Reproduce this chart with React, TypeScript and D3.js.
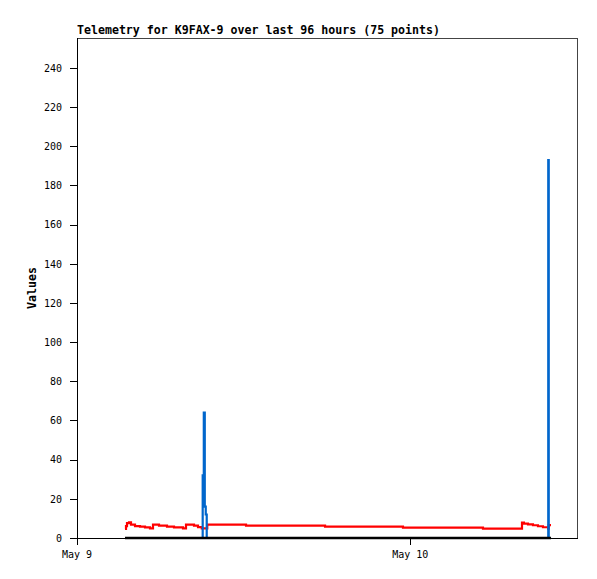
import React from "react";
import * as d3 from "d3";

// hours after May 9 00:00
const times = [3.456, 3.528, 3.6, 3.744, 3.888, 4.176, 4.536, 4.896, 5.256, 5.472, 5.904, 6.48, 6.984, 7.632, 7.848, 8.424, 8.712, 8.98, 9.05, 9.13, 9.2, 9.27, 9.34, 9.38, 12.17, 17.86, 23.47, 29.23, 32.04, 32.18, 32.47, 32.83, 33.19, 33.55, 33.93, 33.965, 34.13];
const redValues = [4.6, 6.1, 7.6, 8.0, 6.8, 6.1, 5.8, 5.4, 4.9, 6.8, 6.3, 5.8, 5.4, 4.9, 6.8, 6.3, 5.6, 4.9, 4.9, 4.9, 4.9, 4.9, 4.9, 6.8, 6.3, 5.8, 5.3, 4.8, 7.8, 7.3, 7.0, 6.5, 6.0, 5.5, 4.8, 6.6, 6.6];
const blueValues = [0, 0, 0, 0, 0, 0, 0, 0, 0, 0, 0, 0, 0, 0, 0, 0, 0, 0, 32, 64, 16, 12, 0, 0, 0, 0, 0, 0, 0, 0, 0, 0, 0, 0, 193, 0, 0];
const blackValues = times.map(() => 0);
const yTicks = [0, 20, 40, 60, 80, 100, 120, 140, 160, 180, 200, 220, 240];
const xTickLabels = ["May 9", "May 10"];
const xTickHours = [0, 24];
const title = "Telemetry for K9FAX-9 over last 96 hours (75 points)";

const base = new Date(2023, 4, 9, 0, 0, 0);
const toDate = (h: number) => new Date(base.getTime() + h * 3600 * 1000);

export default function App() {
  const L = 77, R = 577, T = 38, B = 538;
  const x = d3.scaleTime().domain([toDate(0), toDate(36)]).range([L, R]);
  const y = d3.scaleLinear().domain([0, 255.3]).range([B, T]);
  const mk = (vals: number[]) =>
    d3
      .line<number>()
      .x((_, i) => x(toDate(times[i])))
      .y((v) => y(v))
      .curve(d3.curveStepAfter)(vals) || "";
  const mono = "'DejaVu Sans Mono', 'Liberation Mono', monospace";
  return (
    <svg width={597} height={579} style={{ position: "absolute", left: 0, top: 0, background: "#fff" }}>
      <rect x={0} y={0} width={597} height={579} fill="#fff" />
      <text x={L} y={34} fontFamily={mono} fontWeight="bold" fontSize={11.6} fill="#000">{title}</text>
      <rect x={L + 0.5} y={T + 0.5} width={R - L} height={B - T} fill="none" stroke="#444" strokeWidth={1} />
      <line x1={L + 0.5} x2={L + 0.5} y1={T} y2={B + 7} stroke="#000" />
      <line x1={L} x2={R + 1} y1={B + 0.5} y2={B + 0.5} stroke="#000" />
      {yTicks.map((t) => (
        <g key={t}>
          <line x1={L - 7} x2={L} y1={Math.round(y(t)) + 0.5} y2={Math.round(y(t)) + 0.5} stroke="#000" />
          <text x={62} y={y(t) + 3.8} textAnchor="end" fontFamily={mono} fontSize={10} fill="#000">{t}</text>
        </g>
      ))}
      {xTickHours.map((h, i) => (
        <g key={h}>
          <line x1={Math.round(x(toDate(h))) + 0.5} x2={Math.round(x(toDate(h))) + 0.5} y1={B} y2={B + 7} stroke="#000" />
          <text x={x(toDate(h))} y={558} textAnchor="middle" fontFamily={mono} fontSize={10} fill="#000">{xTickLabels[i]}</text>
        </g>
      ))}
      <text transform="translate(36,288) rotate(-90)" textAnchor="middle" fontFamily={mono} fontWeight="bold" fontSize={11.6} fill="#000">Values</text>
      <path d={mk(redValues)} fill="none" stroke="#ff0000" strokeWidth={2.2} />
      <path d={mk(blueValues)} fill="none" stroke="#0066cc" strokeWidth={2.2} />
      <path d={mk(blackValues)} fill="none" stroke="#000" strokeWidth={2.5} />
    </svg>
  );
}
